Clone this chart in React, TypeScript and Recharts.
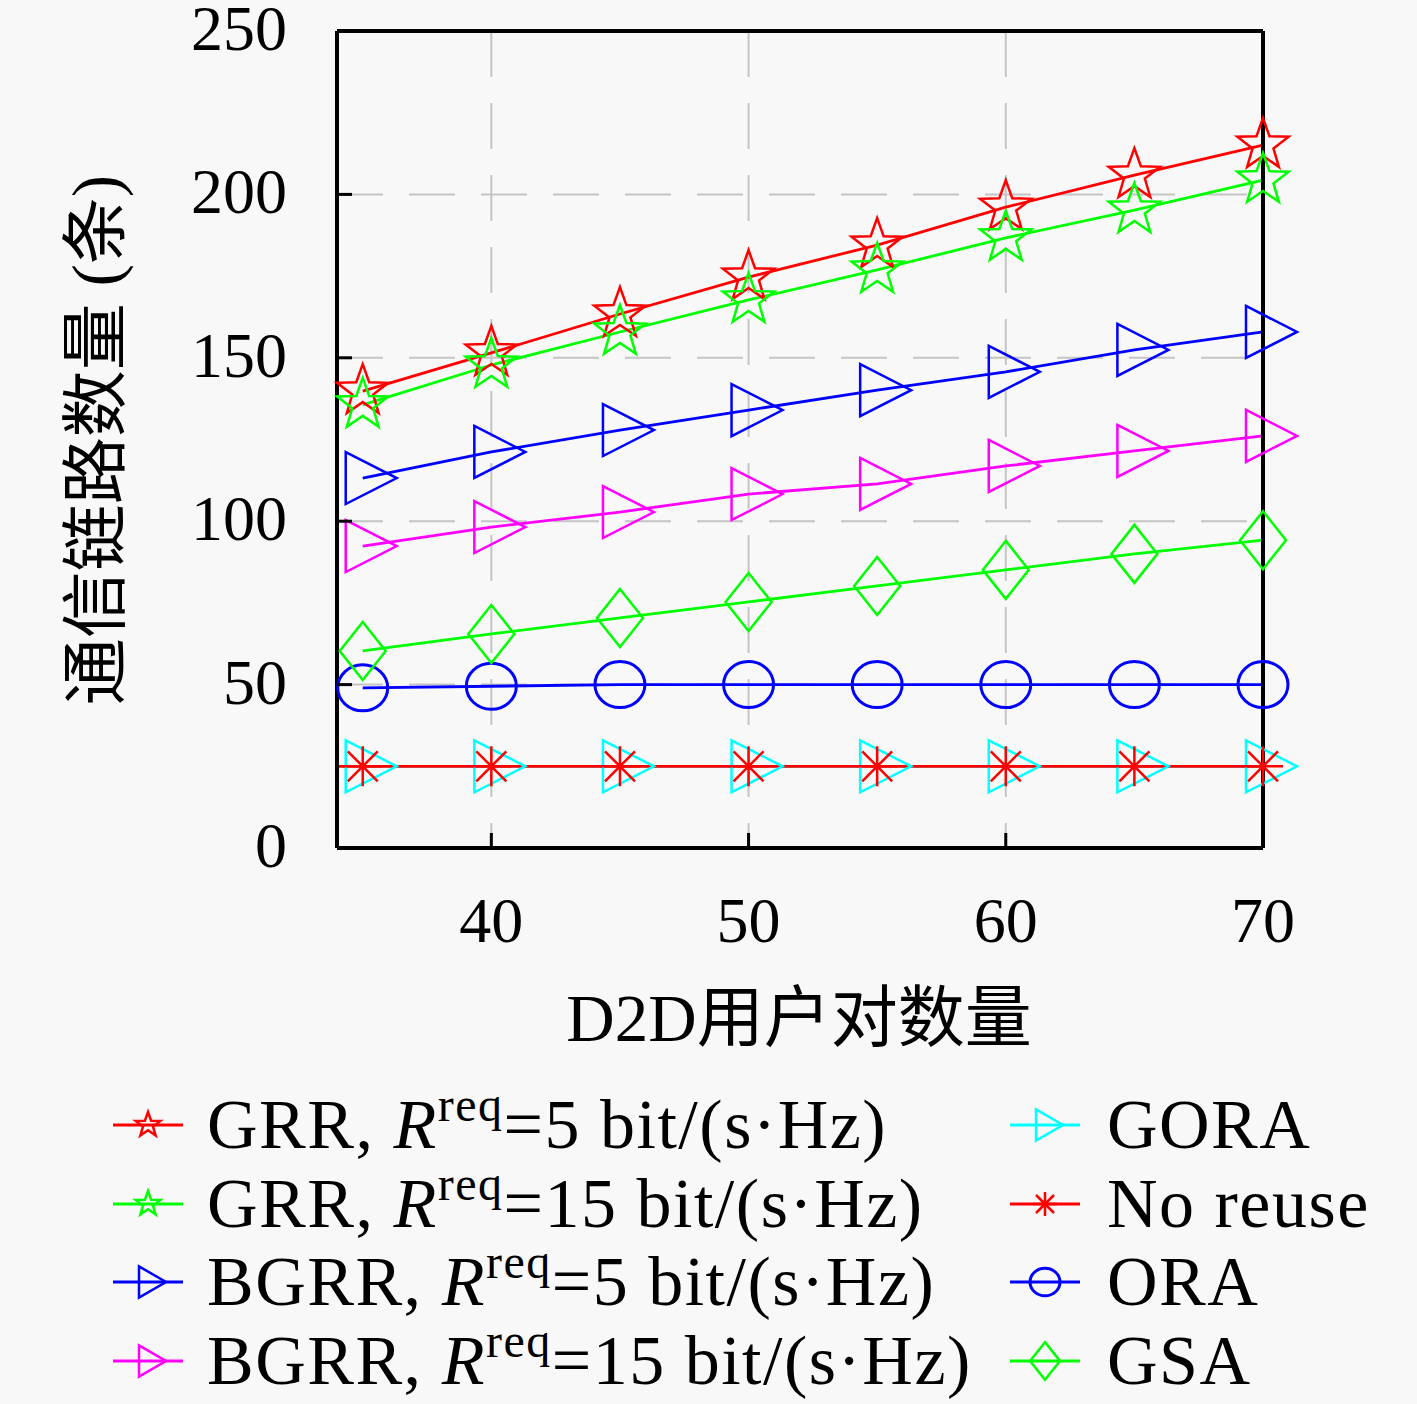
import React from "react";
import { CartesianGrid, Line, LineChart, ReferenceLine, XAxis, YAxis } from "recharts";

const d2dPairs = [35, 40, 45, 50, 55, 60, 65, 70];
const grr5 = [139.8, 151.5, 163.4, 174.7, 184.5, 196.1, 205.9, 215.1];
const grr15 = [135.6, 147.8, 157.9, 167.7, 176.9, 186.7, 195.2, 204.4];
const bgrr5 = [113.2, 121.2, 127.9, 134, 140.1, 145.7, 152.4, 157.9];
const bgrr15 = [92.4, 98.2, 102.8, 108.3, 111.4, 116.9, 121.5, 126.1];
const gora = [25, 25, 25, 25, 25, 25, 25, 25];
const noReuse = [25, 25, 25, 25, 25, 25, 25, 25];
const ora = [49, 49.5, 50, 50, 50, 50, 50, 50];
const gsa = [60.3, 65.5, 70.4, 75.3, 80.2, 85.1, 90, 94.2];

// the no-reuse baseline also runs in from the left border
const noReuseRunIn = [
  { n: 30, v: 25 },
  { n: 35, v: 25 },
];

const xTicks = [40, 50, 60, 70];
const yTicks = [0, 50, 100, 150, 200, 250];

type Shape = "star" | "triangle" | "circle" | "diamond" | "asterisk";

const series: Array<{ key: string; values: number[]; color: string; shape: Shape; label: string; rate?: string }> = [
  { key: "grr5", values: grr5, color: "#ff0000", shape: "star", label: "GRR, ", rate: "5" },
  { key: "grr15", values: grr15, color: "#00ff00", shape: "star", label: "GRR, ", rate: "15" },
  { key: "bgrr5", values: bgrr5, color: "#0000ff", shape: "triangle", label: "BGRR, ", rate: "5" },
  { key: "bgrr15", values: bgrr15, color: "#ff00ff", shape: "triangle", label: "BGRR, ", rate: "15" },
  { key: "gora", values: gora, color: "#00ffff", shape: "triangle", label: "GORA" },
  { key: "noReuse", values: noReuse, color: "#ff0000", shape: "asterisk", label: "No reuse" },
  { key: "ora", values: ora, color: "#0000ff", shape: "circle", label: "ORA" },
  { key: "gsa", values: gsa, color: "#00ff00", shape: "diamond", label: "GSA" },
];

const data = d2dPairs.map((n, i) => {
  const row: Record<string, number> = { n };
  series.forEach((s) => (row[s.key] = s.values[i]));
  return row;
});

const SERIF = '"Liberation Serif", "Times New Roman", serif';
const CJK = '"Liberation Serif", "Noto Sans CJK SC", serif';

function Marker({ shape, cx, cy, color, s = 1, small = false }: { shape: Shape; cx: number; cy: number; color: string; s?: number; small?: boolean }) {
  const sw = 2.5;
  if (shape === "star") {
    const pts: string[] = [];
    for (let i = 0; i < 10; i++) {
      const r = (i % 2 === 0 ? 27 : 11) * s;
      const a = -Math.PI / 2 + (i * Math.PI) / 5;
      pts.push(`${cx + r * Math.cos(a)},${cy + r * Math.sin(a)}`);
    }
    return <polygon points={pts.join(" ")} fill="none" stroke={color} strokeWidth={sw} />;
  }
  if (shape === "triangle") {
    const w = small ? 15 : 17;
    return (
      <polygon
        points={`${cx - w * s},${cy - 26 * s} ${cx + 2 * w * s},${cy} ${cx - w * s},${cy + 26 * s}`}
        fill="none"
        stroke={color}
        strokeWidth={sw}
      />
    );
  }
  if (shape === "circle") {
    return <ellipse cx={cx} cy={cy} rx={25 * s} ry={23 * s} fill="none" stroke={color} strokeWidth={3} />;
  }
  if (shape === "diamond") {
    return (
      <polygon
        points={`${cx},${cy - 29 * s} ${cx + 23 * s},${cy} ${cx},${cy + 29 * s} ${cx - 23 * s},${cy}`}
        fill="none"
        stroke={color}
        strokeWidth={sw}
      />
    );
  }
  const r = 20 * s;
  const d = 15 * s;
  return (
    <path
      d={`M${cx},${cy - r}L${cx},${cy + r}M${cx - r},${cy}L${cx + r},${cy}M${cx - d},${cy - d}L${cx + d},${cy + d}M${cx - d},${cy + d}L${cx + d},${cy - d}`}
      stroke={color}
      strokeWidth={sw}
      fill="none"
    />
  );
}

function XTick({ x, y, payload }: any) {
  return (
    <g>
      <line x1={x} y1={y} x2={x} y2={y - 15} stroke="#000" strokeWidth={3} />
      <text x={x} y={y + 94} textAnchor="middle" fontFamily={SERIF} fontSize={64} fill="#000">
        {payload.value}
      </text>
    </g>
  );
}

function YTick({ x, y, payload }: any) {
  return (
    <g>
      <line x1={x} y1={y} x2={x + 15} y2={y} stroke="#000" strokeWidth={3} />
      <text x={x - 50} y={y + 19} textAnchor="end" fontFamily={SERIF} fontSize={64} fill="#000">
        {payload.value}
      </text>
    </g>
  );
}

function LegendBlock() {
  const rows = [1125, 1204, 1282, 1361];
  return (
    <svg width={1417} height={1404} style={{ position: "absolute", left: 0, top: 0, pointerEvents: "none" }}>
      {series.map((s, i) => {
        const col = i < 4 ? 0 : 1;
        const cy = rows[i % 4];
        const mx = col === 0 ? 148 : 1045;
        const tx = col === 0 ? 207 : 1107;
        return (
          <g key={s.key}>
            <line x1={mx - 35} y1={cy} x2={mx + 35} y2={cy} stroke={s.color} strokeWidth={3} />
            <Marker shape={s.shape} cx={mx} cy={cy} color={s.color} s={s.shape === "diamond" ? 0.65 : s.shape === "star" ? 0.48 : 0.6} small />
            <text x={tx} y={cy + 23} fontFamily={SERIF} fontSize={70} letterSpacing={1.5} fill="#000">
              {s.label}
              {s.rate ? (
                <>
                  <tspan fontStyle="italic">R</tspan>
                  <tspan fontSize={48} dy={-27}>req</tspan>
                  <tspan dy={27}>{`=${s.rate} bit/(s·Hz)`}</tspan>
                </>
              ) : null}
            </text>
          </g>
        );
      })}
    </svg>
  );
}

export default function App() {
  return (
    <div style={{ position: "absolute", left: 0, top: 0, width: 1417, height: 1404, background: "#f8f8f8" }}>
      <LineChart width={1417} height={1404} data={data} margin={{ top: 31, right: 154, bottom: 0, left: 0 }}>
        <CartesianGrid stroke="#c4c4c4" strokeWidth={2} strokeDasharray="46 26" />
        <XAxis
          dataKey="n"
          type="number"
          domain={[34, 70]}
          ticks={xTicks}
          height={556}
          tickSize={0}
          tickMargin={0}
          tickLine={false}
          axisLine={{ stroke: "#000", strokeWidth: 4 }}
          tick={<XTick />}
          interval={0}
        />
        <XAxis xAxisId="runIn" dataKey="n" type="number" domain={[34, 70]} allowDataOverflow hide />
        <YAxis
          type="number"
          domain={[0, 250]}
          ticks={yTicks}
          width={337}
          tickSize={0}
          tickMargin={0}
          tickLine={false}
          axisLine={{ stroke: "#000", strokeWidth: 4 }}
          tick={<YTick />}
          interval={0}
        />
        {series.map((s) => [
          s.key === "noReuse" ? (
            <Line
              key="runIn"
              xAxisId="runIn"
              data={noReuseRunIn}
              type="linear"
              dataKey="v"
              stroke={s.color}
              strokeWidth={2.8}
              dot={false}
              activeDot={false}
              isAnimationActive={false}
            />
          ) : null,
          <Line
            key={s.key}
            type="linear"
            dataKey={s.key}
            stroke={s.color}
            strokeWidth={2.8}
            isAnimationActive={false}
            dot={(p: any) => <Marker key={`${s.key}-${p.index}`} shape={s.shape} cx={p.cx} cy={p.cy} color={s.color} />}
            activeDot={false}
          />,
        ])}
        <ReferenceLine y={250} stroke="#000" strokeWidth={4} />
        <ReferenceLine x={70} stroke="#000" strokeWidth={4} />
        <ReferenceLine x={34} stroke="#000" strokeWidth={4} />
        <ReferenceLine y={0} stroke="#000" strokeWidth={4} />
        <text x={799} y={1041} textAnchor="middle" fontFamily={CJK} fontSize={67} fill="#000">
          D2D用户对数量
        </text>
        <text
          x={0}
          y={0}
          transform="translate(119 440) rotate(-90)"
          textAnchor="middle"
          fontFamily={CJK}
          fontSize={67}
          fill="#000"
        >
          通信链路数量 (条)
        </text>
      </LineChart>
      <LegendBlock />
    </div>
  );
}
